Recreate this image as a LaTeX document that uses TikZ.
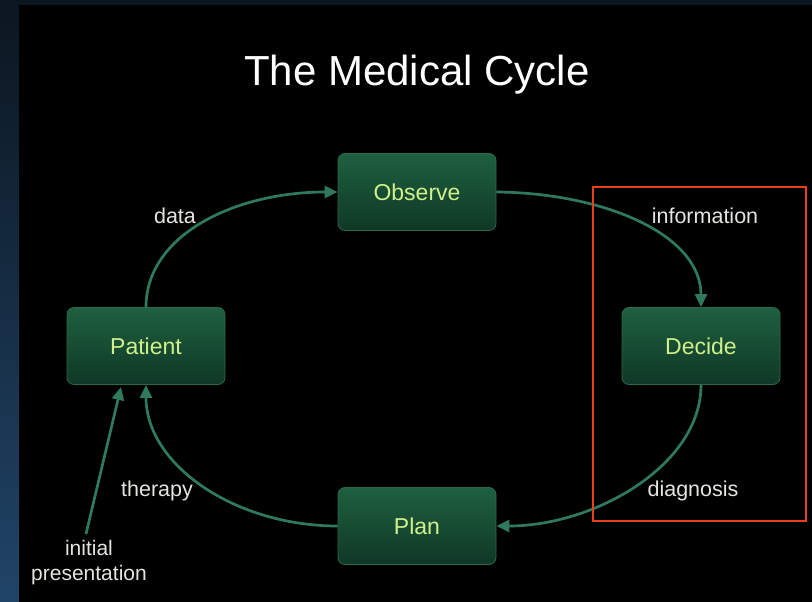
\documentclass[tikz,border=0pt]{standalone}
\usepackage{fontspec}
\setmainfont{Liberation Sans}
\usetikzlibrary{arrows.meta}
\definecolor{stripTop}{HTML}{0C1620}
\definecolor{stripBot}{HTML}{204468}
\definecolor{boxTop}{HTML}{1E6040}
\definecolor{boxBot}{HTML}{0F3826}
\definecolor{boxLine}{HTML}{2B6A48}
\definecolor{boxText}{HTML}{D2F08A}
\definecolor{arrowCol}{HTML}{2F7A5C}
\definecolor{labelCol}{HTML}{E4E4E0}
\definecolor{redBox}{HTML}{E8401C}
\tikzset{
  stagebox/.style={rounded corners=7pt, top color=boxTop, bottom color=boxBot,
    draw=boxLine, line width=0.8pt, minimum width=158pt, minimum height=77pt,
    inner sep=0pt, text=boxText, font=\fontsize{23}{26}\selectfont},
  flowlabel/.style={text=labelCol, font=\fontsize{21.5}{25}\selectfont, inner sep=0pt, align=center},
  flow/.style={draw=arrowCol, line width=2.7pt, -{Triangle[length=13pt,width=12pt]}},
}
\begin{document}
\begin{tikzpicture}[x=1pt,y=-1pt]
\useasboundingbox (0,0) rectangle (812,602);
\fill[stripTop] (0,0) rectangle (812,5);
\shade[top color=stripTop, bottom color=stripBot] (0,5) rectangle (19,602);
\fill[black] (19,5) rectangle (812,602);

\node[text=white, font=\fontsize{42}{48}\selectfont, inner sep=0pt] (title) at (417,75) {The Medical Cycle};

\node[stagebox] (obs) at (417,192) {Observe};
\node[stagebox] (pat) at (146,346) {Patient};
\node[stagebox] (dec) at (701,346) {Decide};
\node[stagebox] (plan) at (417,526) {Plan};

\node[flowlabel] (ldata) at (175,216) {data};
\node[flowlabel] (linfo) at (705,216) {information};
\node[flowlabel] (lther) at (157,491) {therapy};
\node[flowlabel] (ldiag) at (693,491) {diagnosis};
\node[flowlabel, font=\fontsize{21}{25}\selectfont] (linit) at (89,563) {initial\\presentation};

\draw[flow] (pat.north) .. controls (146,235) and (235,192) .. (obs.west);
\draw[flow] (obs.east) .. controls (605,193) and (701,235) .. (dec.north);
\draw[flow] (dec.south) .. controls (701,465) and (595,526) .. (plan.east);
\draw[flow] (plan.west) .. controls (235,526) and (146,465) .. (pat.south);

\coordinate (ipend) at (121,387);
\coordinate (ipstart) at (86,534);
\draw[flow] (ipstart) -- (ipend);

\node[draw=redBox, line width=1.5pt, inner sep=0pt, minimum width=213pt, minimum height=334pt] (focus) at (699.5,354) {};
\end{tikzpicture}
\end{document}
